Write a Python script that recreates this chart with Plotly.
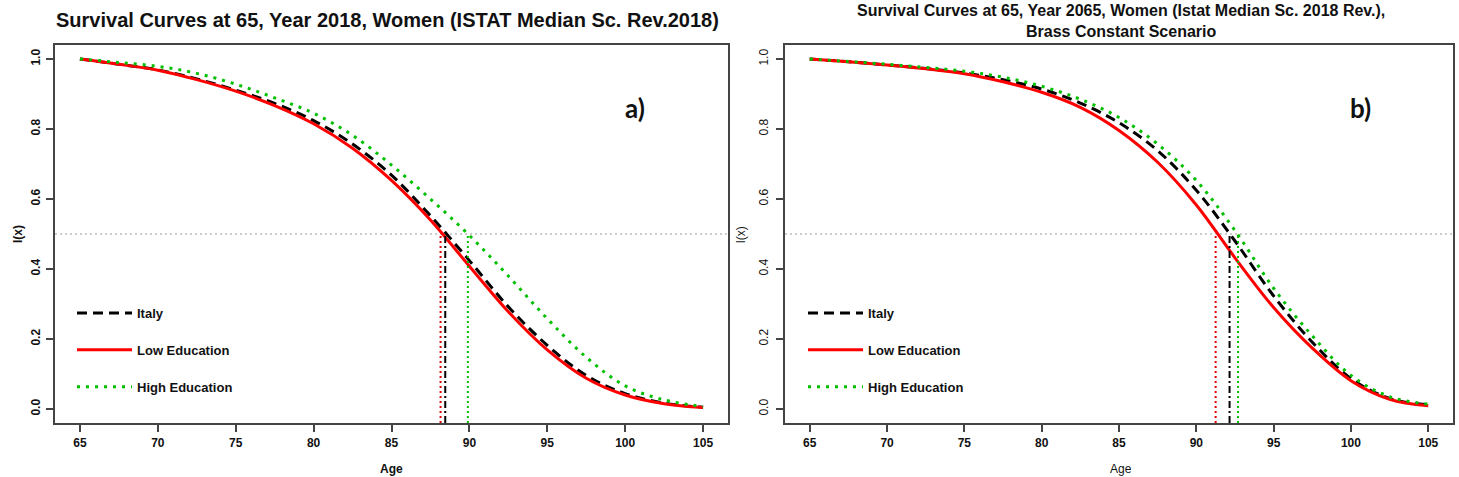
import plotly.graph_objects as go

# survival curves l(x), ages 65-105 every 2.5 years
ages = [65, 67.5, 70, 72.5, 75, 77.5, 80, 82.5, 85, 87.5, 90, 92.5, 95, 97.5, 100, 102.5, 105]

italy_2018 = [1.0, 0.985, 0.969, 0.943, 0.911, 0.873, 0.824, 0.757, 0.668, 0.552, 0.424, 0.292, 0.182, 0.096, 0.044, 0.017, 0.005]
low_2018 = [1.0, 0.985, 0.968, 0.941, 0.908, 0.867, 0.815, 0.745, 0.653, 0.540, 0.408, 0.278, 0.169, 0.088, 0.040, 0.015, 0.004]
high_2018 = [1.0, 0.990, 0.979, 0.959, 0.928, 0.889, 0.845, 0.782, 0.697, 0.600, 0.496, 0.380, 0.258, 0.148, 0.066, 0.026, 0.007]

italy_2065 = [1.0, 0.992, 0.983, 0.973, 0.960, 0.941, 0.914, 0.874, 0.818, 0.738, 0.625, 0.480, 0.323, 0.191, 0.087, 0.030, 0.012]
low_2065 = [1.0, 0.992, 0.983, 0.972, 0.958, 0.935, 0.905, 0.862, 0.796, 0.705, 0.583, 0.432, 0.290, 0.174, 0.081, 0.028, 0.009]
high_2065 = [1.0, 0.993, 0.985, 0.976, 0.965, 0.948, 0.922, 0.885, 0.833, 0.757, 0.653, 0.510, 0.345, 0.209, 0.096, 0.035, 0.014]

# median ages (l(x) = 0.5): italy, low, high
medians_2018 = [88.45, 88.15, 89.9]
medians_2065 = [92.15, 91.25, 92.7]

seriesNames = ["Italy", "Low Education", "High Education"]
xTicks = [65, 70, 75, 80, 85, 90, 95, 100, 105]
yTicks = [0.0, 0.2, 0.4, 0.6, 0.8, 1.0]
halfLevel = 0.5

W, H = 1459, 477
FONT = "Arial, Liberation Sans, sans-serif"
colors = ["#000000", "#FF0000", "#00C000"]
curveDash = ["10px,6px", "solid", "3px,6px"]
medianDash = ["7px,3px,2px,3px", "2px,3px", "2px,3px"]

fig = go.Figure()

def addPanel(fig, curves, medians, xa, ya, legendName):
    for i in range(3):
        fig.add_trace(go.Scatter(x = ages, y = curves[i], mode = "lines", name = seriesNames[i],
                                 line = dict(color = colors[i], width = 3, dash = curveDash[i], shape = "spline", smoothing = 1.0),
                                 xaxis = xa, yaxis = ya, legend = legendName, legendgroup = legendName + str(i),
                                 hoverinfo = "skip"))
    for i in range(3):
        fig.add_trace(go.Scatter(x = [medians[i], medians[i]], y = [-0.04, halfLevel], mode = "lines",
                                 line = dict(color = colors[i] if i != 1 else "#E00000", width = 2, dash = medianDash[i]),
                                 xaxis = xa, yaxis = ya, showlegend = False, hoverinfo = "skip"))

addPanel(fig, [italy_2018, low_2018, high_2018], medians_2018, "x", "y", "legend")
addPanel(fig, [italy_2065, low_2065, high_2065], medians_2065, "x2", "y2", "legend2")

# pixel boxes of the two plot regions
leftBox = [55, 728]
rightBox = [785, 1453]
top, bottom = 45, 423
ydom = [1 - bottom / H, 1 - top / H]

def axisStyle(dom, boldTicks, tickVals, fmt = None, angle = 0, standoff = 1):
    d = dict(domain = dom, showgrid = False, zeroline = False, showline = True, mirror = True,
             linecolor = "#444444", linewidth = 1.5, ticks = "outside", ticklen = 7, tickwidth = 1.5,
             tickcolor = "#444444", tickvals = tickVals, tickangle = angle, ticklabelstandoff = standoff,
             tickfont = dict(family = FONT, size = 12, color = "#111111", weight = "bold" if boldTicks else "normal"))
    if fmt:
        d["tickformat"] = fmt
    return d

legendStyle = dict(xanchor = "left", y = 1 - 298 / H, yanchor = "top", bgcolor = "rgba(0,0,0,0)",
                   itemwidth = 55, tracegroupgap = 17, font = dict(family = FONT, size = 13, weight = "bold", color = "#111111"))

fig.update_layout(
    width = W, height = H, margin = dict(l = 0, r = 0, t = 0, b = 0),
    plot_bgcolor = "white", paper_bgcolor = "white",
    xaxis = dict(axisStyle([leftBox[0] / W, leftBox[1] / W], True, xTicks), range = [63.4, 106.6], anchor = "y"),
    yaxis = dict(axisStyle(ydom, True, yTicks, ".1f", -90, 1), range = [-0.04, 1.04], anchor = "x"),
    xaxis2 = dict(axisStyle([rightBox[0] / W, rightBox[1] / W], True, xTicks), range = [63.4, 106.6], anchor = "y2"),
    yaxis2 = dict(axisStyle(ydom, False, yTicks, ".1f", -90, 3), range = [-0.04, 1.04], anchor = "x2"),
    legend = dict(legendStyle, x = 72 / W),
    legend2 = dict(legendStyle, x = 803 / W),
    showlegend = True,
)

# dotted reference line at l(x) = 0.5
for xr, yr in [("x", "y"), ("x2", "y2")]:
    fig.add_shape(type = "line", xref = xr + " domain", yref = yr, x0 = 0, x1 = 1, y0 = halfLevel, y1 = halfLevel,
                  line = dict(color = "#999999", width = 1, dash = "2px,3px"), layer = "below")

def label(text, px, py, size = 12, bold = True, angle = 0):
    fig.add_annotation(text = text, x = px / W, y = 1 - py / H, xref = "paper", yref = "paper", showarrow = False,
                       xanchor = "center", yanchor = "middle", align = "center", textangle = angle,
                       font = dict(family = FONT, size = size, weight = "bold" if bold else "normal", color = "#111111"))

# titles, axis labels and panel letters
label("Survival Curves at 65, Year 2018, Women (ISTAT Median Sc. Rev.2018)", 387, 20, 20)
label("Survival Curves at 65, Year 2065, Women (Istat Median Sc. 2018 Rev.),<br>Brass Constant Scenario", 1121, 21, 16)
label("l(x)", 18, 234, 12, True, -90)
label("l(x)", 741, 234, 12, False, -90)
label("Age", 391, 469, 12, True)
label("Age", 1121, 469, 12, False)

for xr, yr, letter in [("x", "y", "a)"), ("x2", "y2", "b)")]:
    fig.add_annotation(text = letter, x = 100.6, y = 0.86, xref = xr, yref = yr, showarrow = False,
                       font = dict(family = "Lato, sans-serif", size = 26, weight = "bold", color = "#111111"))

fig.write_html("out.html", config = {"displayModeBar": False}, post_script = "document.body.style.margin='0';")
